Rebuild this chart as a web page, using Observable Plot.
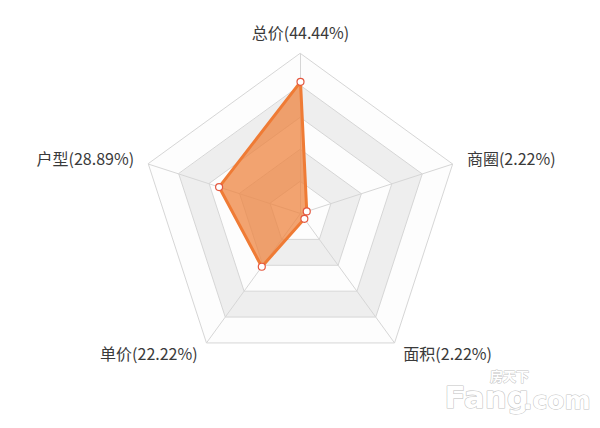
<!DOCTYPE html>
<html>
<head>
<meta charset="utf-8">
<script src="https://cdn.jsdelivr.net/npm/d3@7"></script>
<script src="https://cdn.jsdelivr.net/npm/@observablehq/plot@0.6"></script>
<style>
  html, body { margin: 0; padding: 0; background: #fff; }
  #chart { width: 600px; height: 428px; }
</style>
</head>
<body>
<div id="chart"></div>
<script>
const indicators = ["总价", "商圈", "面积", "单价", "户型"];
const values = [44.44, 2.22, 2.22, 22.22, 28.89];
const maxValue = 54;
const levels = [1, 2, 3, 4, 5];

const W = 600, H = 428, cx = 300, cy = 213, R = 160;
const k = R / maxValue;
const n = indicators.length;
const ang = i => i * 2 * Math.PI / n;
const px = (v, i) => v * Math.sin(ang(i));
const py = (v, i) => v * Math.cos(ang(i));

// ring polygons
const ringPts = [];
for (const l of levels) {
  const v = maxValue * l / levels.length;
  for (let i = 0; i < n; i++) ringPts.push({ level: l, x: px(v, i), y: py(v, i) });
}
const bandColor = l => (l % 2 === 0 ? "#eeeeee" : "#fdfdfd");
const bandMarks = levels.slice().reverse().map(l =>
  Plot.line(ringPts.filter(d => d.level === l), {
    x: "x", y: "y", curve: "linear-closed", fill: bandColor(l), stroke: "#d6d6d6", strokeWidth: 1
  })
);

const spokes = indicators.map((name, i) => ({ x1: 0, y1: 0, x2: px(maxValue, i), y2: py(maxValue, i) }));
const series = indicators.map((name, i) => ({ name, v: values[i], x: px(values[i], i), y: py(values[i], i) }));
const labelR = maxValue * (1 + 15 / R);
const labels = indicators.map((name, i) => ({
  i, text: `${name}(${values[i].toFixed(2)}%)`, x: px(labelR, i), y: py(labelR, i)
}));

const font = "'Noto Sans CJK SC', 'Noto Sans', sans-serif";
const textCommon = { x: "x", y: "y", text: "text", fontSize: 16, fill: "#3a3a3a", fontFamily: font };
const toX = p => (p - cx) / k, toY = p => (cy - p) / k;

const chart = Plot.plot({
  width: W, height: H,
  margin: 0,
  x: { type: "linear", domain: [-cx / k, (W - cx) / k], range: [0, W], axis: null },
  y: { type: "linear", domain: [-(H - cy) / k, cy / k], range: [H, 0], axis: null },
  style: { background: "#fff", fontFamily: font },
  marks: [
    ...bandMarks,
    Plot.link(spokes, { x1: "x1", y1: "y1", x2: "x2", y2: "y2", stroke: "#d6d6d6", strokeWidth: 1 }),
    Plot.line(series, { x: "x", y: "y", curve: "linear-closed", fill: "#ee8440", fillOpacity: 0.75, stroke: "#ef7b35", strokeWidth: 3, strokeLinejoin: "round" }),
    Plot.dot(series, { x: "x", y: "y", r: 3.5, fill: "#fff", stroke: "#e4573f", strokeWidth: 1.2 }),
    Plot.text(labels.filter(d => d.i === 0), { ...textCommon, textAnchor: "middle", lineAnchor: "bottom" }),
    Plot.text(labels.filter(d => d.i === 1 || d.i === 2), { ...textCommon, textAnchor: "start" }),
    Plot.text(labels.filter(d => d.i === 3 || d.i === 4), { ...textCommon, textAnchor: "end" }),
    Plot.text(["房天下"], { x: toX(509), y: toY(376), text: d => d, fontSize: 13, fontWeight: "bold", fill: "#fff", stroke: "#c4c4c4", strokeWidth: 1, fontFamily: font }),
    Plot.text(["Fang"], { x: toX(444), y: toY(398), text: d => d, textAnchor: "start", fontSize: 31, fontWeight: "bold", fill: "#fff", stroke: "#c4c4c4", strokeWidth: 1.2, fontFamily: "'DejaVu Sans', sans-serif" }),
    Plot.text([".com"], { x: toX(590), y: toY(400), text: d => d, textAnchor: "end", fontSize: 25, fontWeight: "bold", fill: "#fff", stroke: "#c4c4c4", strokeWidth: 1.1, fontFamily: "'DejaVu Sans', sans-serif" })
  ]
});
document.getElementById("chart").appendChild(chart);
</script>
</body>
</html>
